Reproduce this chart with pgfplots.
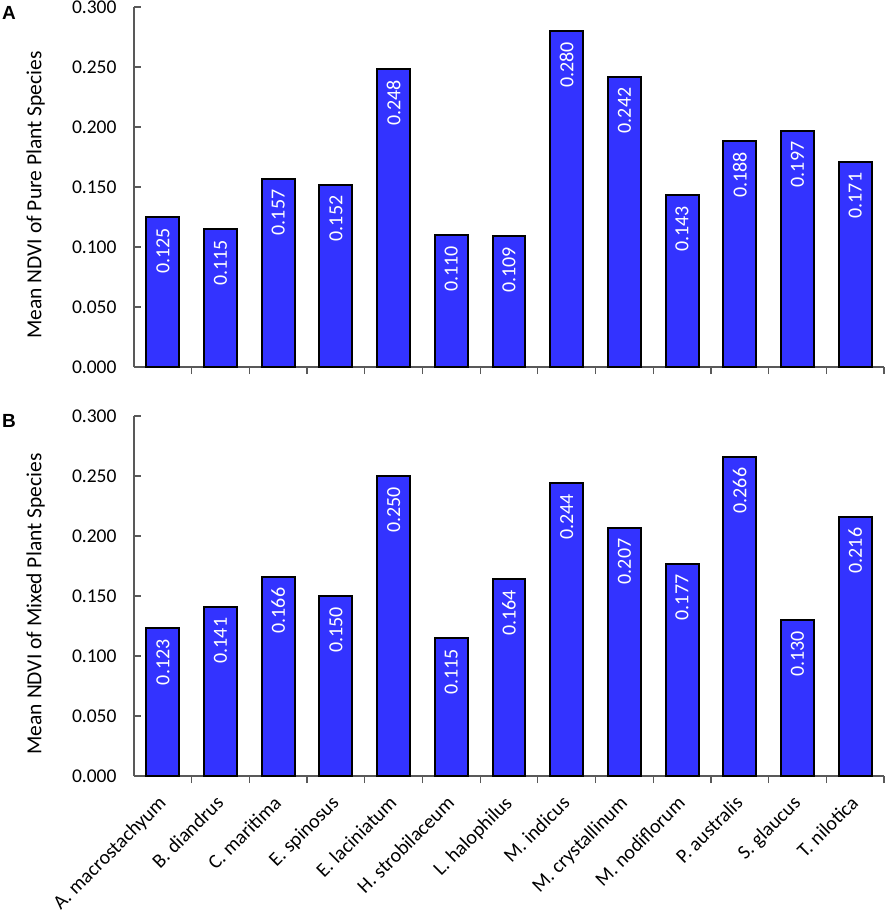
\documentclass[border=0pt]{standalone}
\usepackage{pgfplots}
\pgfplotsset{compat=1.18}
\usepackage{fontspec}
\setmainfont{Carlito}
\newfontfamily\arialb[BoldFont={* Bold}]{Liberation Sans}
\definecolor{barblue}{RGB}{51,51,255}
\definecolor{axgray}{RGB}{89,89,89}
\newcommand{\fs}{\fontsize{19.5}{23}\selectfont}
\newcommand{\fsb}{\fontsize{20}{24}\selectfont}
\newcommand{\fsl}{\fontsize{21.5}{25}\selectfont}
\pgfplotstableread{
x val
0 0.125
1 0.115
2 0.157
3 0.152
4 0.248
5 0.110
6 0.109
7 0.280
8 0.242
9 0.143
10 0.188
11 0.197
12 0.171
}\pure
\pgfplotstableread{
x val
0 0.123
1 0.141
2 0.166
3 0.150
4 0.250
5 0.115
6 0.164
7 0.244
8 0.207
9 0.177
10 0.266
11 0.130
12 0.216
}\mixed
\pgfplotsset{
  panel/.style={
    scale only axis, width=750pt, height=360pt,
    xmin=-0.5, xmax=12.5, ymin=0, ymax=0.3,
    axis x line*=bottom, axis y line*=left,
    axis line style={axgray, line width=1.2pt},
    every tick/.style={axgray, line width=1.2pt},
    xtick={0,...,12}, major x tick style={draw=none},
    minor xtick={0.5,1.5,...,12.5},
    minor tick length=7pt, major tick length=7pt,
    tick align=inside,
    ytick={0,0.05,...,0.3},
    yticklabel style={font=\fs, xshift=-14pt, /pgf/number format/fixed, /pgf/number format/fixed zerofill, /pgf/number format/precision=3, /pgf/number format/assume math mode=true},
    ylabel style={font=\fsl, at={(axis description cs:0,0.5)}, anchor=south, inner sep=0pt, yshift=89pt, xshift=-8pt},
    ybar, bar width=0.57,
    clip=false,
  },
  barsty/.style={fill=barblue, draw=black, line width=2pt,
    nodes near coords,
    every node near coord/.style={rotate=90, anchor=east, text=white, font=\fsb, inner xsep=10pt, inner ysep=0pt,
      /pgf/number format/fixed, /pgf/number format/fixed zerofill, /pgf/number format/precision=3, /pgf/number format/assume math mode=true},
  },
}
\begin{document}
\begin{tikzpicture}
\useasboundingbox (0pt,0pt) rectangle (886pt,-913pt);
\begin{axis}[panel, at={(134pt,-367pt)}, anchor=south west,
  xticklabels={}, ylabel={Mean NDVI of Pure Plant Species}]
\addplot[barsty] table[x=x,y=val]{\pure};
\end{axis}
\begin{axis}[panel, at={(134pt,-776pt)}, anchor=south west,
  ylabel={Mean NDVI of Mixed Plant Species},
  xticklabels={A. macrostachyum, B. diandrus, C. maritima, E. spinosus, E. laciniatum, H. strobilaceum, L. halophilus, M. indicus, M. crystallinum, M. nodiflorum, P. australis, S. glaucus, T. nilotica},
  xticklabel style={font=\fsb, rotate=45, anchor=north east, inner sep=0pt, xshift=-12pt, yshift=-4pt}]
\addplot[barsty] table[x=x,y=val]{\mixed};
\end{axis}
\node[font=\arialb\fontsize{19}{22}\selectfont\bfseries, anchor=north west, inner sep=0pt] at (2pt,-6pt) {A};
\node[font=\arialb\fontsize{19}{22}\selectfont\bfseries, anchor=north west, inner sep=0pt] at (2pt,-414pt) {B};
\end{tikzpicture}
\end{document}
